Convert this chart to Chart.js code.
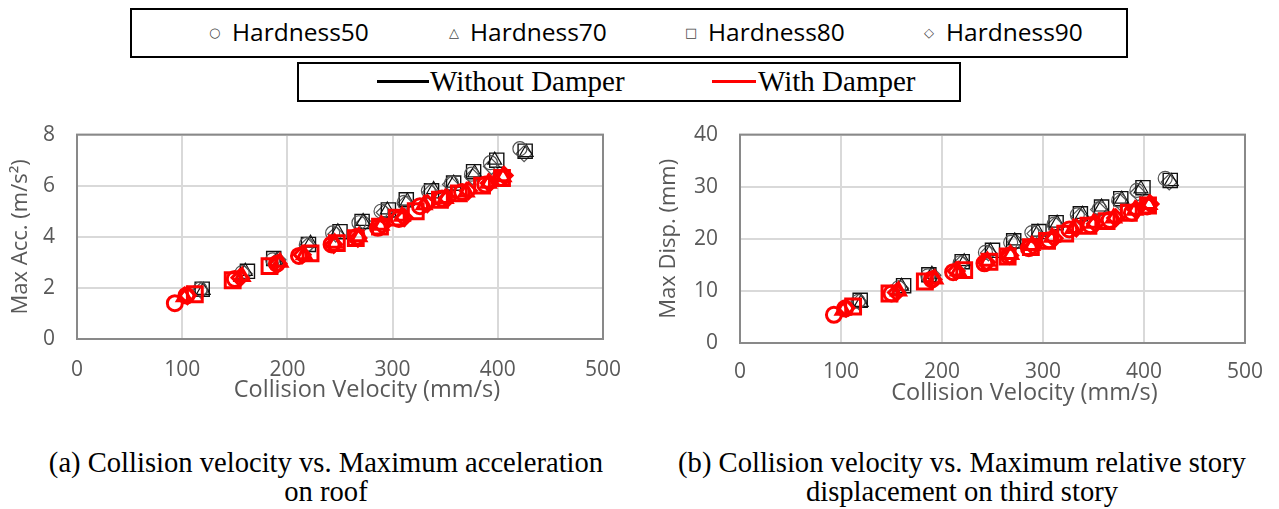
<!DOCTYPE html>
<html>
<head>
<meta charset="utf-8">
<script src="https://cdn.jsdelivr.net/npm/chart.js@4/dist/chart.umd.min.js"></script>
<style>
  body { margin: 0; background: #fff; width: 1279px; height: 509px; position: relative; overflow: hidden; }
  .caja { position: absolute; border: 2px solid #000; box-sizing: border-box; background: #fff; }
  .item { position: absolute; white-space: nowrap; }
  .marca { position: absolute; font-family: "DejaVu Sans"; font-size: 13px; color: #444; line-height: 20px; }
  .dureza { font-family: "Open Sans"; font-size: 24.5px; color: #000; line-height: 28px; }
  .linea { position: absolute; height: 3px; }
  .amort { font-family: "Liberation Serif"; font-size: 29px; color: #000; line-height: 30px; }
  .lienzo { position: absolute; }
  .pie { position: absolute; width: 620px; text-align: center; font-family: "Liberation Serif"; font-size: 28.6px; line-height: 29px; color: #000; }
</style>
</head>
<body>

<div class="caja" style="left:130px; top:8px; width:998px; height:50px;"></div>
<span class="marca" style="left:209px; top:23px;">○</span>
<span class="item dureza" style="left:232px; top:18px;">Hardness50</span>
<span class="marca" style="left:449px; top:23px;">△</span>
<span class="item dureza" style="left:470px; top:18px;">Hardness70</span>
<span class="marca" style="left:685px; top:23px;">□</span>
<span class="item dureza" style="left:708px; top:18px;">Hardness80</span>
<span class="marca" style="left:924px; top:23px;">◇</span>
<span class="item dureza" style="left:946px; top:18px;">Hardness90</span>

<div class="caja" style="left:297px; top:62px; width:664px; height:40px;"></div>
<div class="linea" style="left:377px; top:80px; width:52px; background:#000;"></div>
<span class="item amort" style="left:430px; top:66px;">Without Damper</span>
<div class="linea" style="left:712px; top:80px; width:44px; background:#ff0000;"></div>
<span class="item amort" style="left:758px; top:66px;">With Damper</span>

<canvas id="chartAcc" class="lienzo" width="640" height="310" style="left:0; top:100px;"></canvas>
<canvas id="chartDisp" class="lienzo" width="639" height="310" style="left:640px; top:100px;"></canvas>

<div class="pie" style="left:16px; top:448px;">(a) Collision velocity vs. Maximum acceleration<br>on roof</div>
<div class="pie" style="left:652px; top:448px;">(b) Collision velocity vs. Maximum relative story<br>displacement on third story</div>

<script>
// Velocidad de colisión (mm/s), sin amortiguador
const v50Sin = [117, 157, 186, 218, 243, 268, 289, 311, 334, 356, 375, 393, 421];
const v70Sin = [120, 160, 190, 222, 248, 272, 295, 314, 339, 358, 378, 397, 427];
const v80Sin = [119, 162, 187, 220, 250, 271, 296, 313, 337, 358, 377, 399, 426];
const v90Sin = [118, 159, 191, 219, 246, 273, 292, 312, 336, 355, 376, 394, 425];

// Velocidad de colisión (mm/s), con amortiguador
const v50Con = [93, 104, 150, 190, 211, 242, 266, 286, 306, 326, 347, 366, 388, 403];
const v70Con = [102, 157, 193, 216, 245, 268, 289, 309, 330, 350, 370, 391, 405];
const v80Con = [112, 148, 183, 222, 247, 265, 288, 304, 322, 345, 363, 385, 404];
const v90Con = [105, 155, 191, 214, 244, 267, 290, 311, 333, 352, 372, 392, 406];

// Aceleración máxima en techo (m/s2)
const a50Sin = [1.95, 2.6, 3.1, 3.7, 4.15, 4.55, 5.0, 5.35, 5.8, 6.1, 6.45, 6.9, 7.45];
const a70Sin = [1.9, 2.65, 3.05, 3.75, 4.2, 4.6, 5.05, 5.4, 5.85, 6.1, 6.5, 7.0, 7.3];
const a80Sin = [1.95, 2.65, 3.15, 3.7, 4.2, 4.6, 5.05, 5.45, 5.8, 6.1, 6.55, 7.0, 7.35];
const a90Sin = [1.9, 2.55, 3.1, 3.65, 4.1, 4.55, 4.95, 5.3, 5.75, 6.05, 6.35, 6.75, 7.25];
const a50Con = [1.4, 1.7, 2.35, 2.95, 3.25, 3.7, 4.0, 4.35, 4.7, 5.2, 5.5, 5.75, 6.05, 6.3];
const a70Con = [1.65, 2.45, 3.0, 3.3, 3.75, 4.0, 4.45, 4.8, 5.25, 5.5, 5.75, 6.1, 6.35];
const a80Con = [1.75, 2.3, 2.85, 3.35, 3.75, 3.95, 4.4, 4.75, 5.0, 5.45, 5.7, 6.0, 6.3];
const a90Con = [1.7, 2.4, 2.95, 3.3, 3.7, 3.95, 4.45, 4.75, 5.3, 5.5, 5.8, 6.1, 6.4];

// Desplazamiento relativo máximo, tercer piso (mm)
const d50Sin = [8.0, 10.6, 12.9, 15.4, 17.4, 19.3, 21.2, 22.8, 24.6, 25.8, 27.4, 29.3, 31.6];
const d70Sin = [7.8, 10.9, 13.2, 15.6, 17.6, 19.6, 21.3, 23.0, 24.7, 26.1, 27.6, 29.6, 31.0];
const d80Sin = [8.2, 11.0, 13.1, 15.6, 17.8, 19.6, 21.4, 23.1, 24.8, 26.1, 27.7, 29.8, 31.2];
const d90Sin = [7.9, 10.5, 13.0, 15.3, 17.3, 19.4, 21.0, 22.7, 24.3, 25.6, 27.1, 28.8, 30.9];
const d50Con = [5.4, 6.6, 9.5, 12.2, 13.6, 15.3, 16.7, 18.2, 19.7, 21.8, 22.6, 23.6, 25.0, 26.2];
const d70Con = [6.3, 10.0, 12.3, 13.8, 15.7, 17.0, 18.7, 20.3, 22.0, 23.0, 24.0, 25.5, 26.6];
const d80Con = [7.0, 9.5, 11.8, 14.0, 15.6, 16.6, 18.4, 19.6, 21.0, 22.5, 23.4, 25.0, 26.4];
const d90Con = [6.7, 9.7, 12.2, 13.8, 15.5, 16.8, 18.6, 20.1, 22.1, 22.9, 24.0, 25.6, 26.7];

// Ejes
const ticksX = [0, 100, 200, 300, 400, 500];
const ticksAcc = [0, 2, 4, 6, 8];
const ticksDisp = [0, 10, 20, 30, 40];

const GRIS = "#595959";
const ROJO = "#ff0000";

function serie(label, xs, ys, estilo, color, radio, grosor, orden) {
  return {
    label: label,
    data: xs.map((x, i) => ({ x: x, y: ys[i] })),
    pointStyle: estilo,
    pointRadius: radio,
    pointHoverRadius: radio,
    pointBorderColor: color,
    pointBackgroundColor: "rgba(0,0,0,0)",
    pointBorderWidth: grosor,
    order: orden
  };
}

function series(y50s, y70s, y80s, y90s, y50c, y70c, y80c, y90c) {
  return [
    serie("Hardness50 Without Damper", v50Sin, y50s, "circle", "#555", 7, 1.2, 1),
    serie("Hardness70 Without Damper", v70Sin, y70s, "triangle", "#111", 8, 1.2, 1),
    serie("Hardness80 Without Damper", v80Sin, y80s, "rect", "#111", 10, 1.4, 1),
    serie("Hardness90 Without Damper", v90Sin, y90s, "rectRot", "#555", 8, 1.2, 1),
    serie("Hardness50 With Damper", v50Con, y50c, "circle", ROJO, 7.5, 3, 0),
    serie("Hardness70 With Damper", v70Con, y70c, "triangle", ROJO, 8, 3, 0),
    serie("Hardness80 With Damper", v80Con, y80c, "rect", ROJO, 10.5, 3, 0),
    serie("Hardness90 With Damper", v90Con, y90c, "rectRot", ROJO, 8, 3, 0)
  ];
}

// Marco del área de trazado y título del eje X
const marco = {
  id: "marco",
  beforeDatasetsDraw(chart) {
    const a = chart.chartArea;
    const ctx = chart.ctx;
    ctx.save();
    ctx.strokeStyle = "#898989";
    ctx.lineWidth = 2;
    ctx.strokeRect(a.left, a.top, a.right - a.left, a.bottom - a.top);
    ctx.restore();
  },
  afterDraw(chart, args, opts) {
    const a = chart.chartArea;
    const ctx = chart.ctx;
    ctx.save();
    ctx.fillStyle = GRIS;
    ctx.font = "23.5px 'Open Sans'";
    ctx.textAlign = "center";
    ctx.textBaseline = "middle";
    ctx.fillText(opts.texto, (a.left + a.right) / 2 + opts.dx, a.bottom + opts.dy);
    ctx.restore();
  }
};

function grafico(id, datos, yTicks, yTitulo, o) {
  new Chart(document.getElementById(id), {
    type: "scatter",
    data: { datasets: datos },
    plugins: [marco],
    options: {
      responsive: false,
      animation: false,
      devicePixelRatio: 1,
      layout: { padding: { top: o.arriba, right: o.derecha, left: 0, bottom: 0 } },
      plugins: {
        legend: { display: false },
        tooltip: { enabled: false },
        marco: { texto: "Collision Velocity (mm/s)", dx: o.dx, dy: o.dy }
      },
      scales: {
        x: {
          type: "linear",
          min: ticksX[0],
          max: ticksX[ticksX.length - 1],
          afterBuildTicks: s => { s.ticks = ticksX.map(v => ({ value: v })); },
          afterFit: s => { s.height = o.altoX; },
          ticks: { color: GRIS, font: { family: "Open Sans", size: 21 }, padding: o.padX, maxRotation: 0 },
          grid: { color: "#d9d9d9", lineWidth: 2, drawTicks: false },
          border: { display: false }
        },
        y: {
          type: "linear",
          min: yTicks[0],
          max: yTicks[yTicks.length - 1],
          afterBuildTicks: s => { s.ticks = yTicks.map(v => ({ value: v })); },
          afterFit: s => { s.width = o.anchoY; },
          ticks: { color: GRIS, font: { family: "Open Sans", size: 21 }, padding: 22 },
          grid: { color: "#d9d9d9", lineWidth: 2, drawTicks: false },
          border: { display: false },
          title: {
            display: true,
            text: yTitulo,
            color: GRIS,
            font: { family: "Open Sans", size: 22 },
            padding: { top: o.padTitulo, bottom: 0 }
          }
        }
      }
    }
  });
}

// Gráfico (a): aceleración máxima
grafico("chartAcc",
  series(a50Sin, a70Sin, a80Sin, a90Sin, a50Con, a70Con, a80Con, a90Con),
  ticksAcc, "Max Acc. (m/s²)",
  { arriba: 28, derecha: 37, altoX: 71, anchoY: 77, padX: 18, padTitulo: 8, dx: 27, dy: 51 });

// Gráfico (b): desplazamiento máximo
grafico("chartDisp",
  series(d50Sin, d70Sin, d80Sin, d90Sin, d50Con, d70Con, d80Con, d90Con),
  ticksDisp, "Max Disp. (mm)",
  { arriba: 32, derecha: 30, altoX: 67, anchoY: 100, padX: 16, padTitulo: 16, dx: 32, dy: 50 });
</script>
</body>
</html>
